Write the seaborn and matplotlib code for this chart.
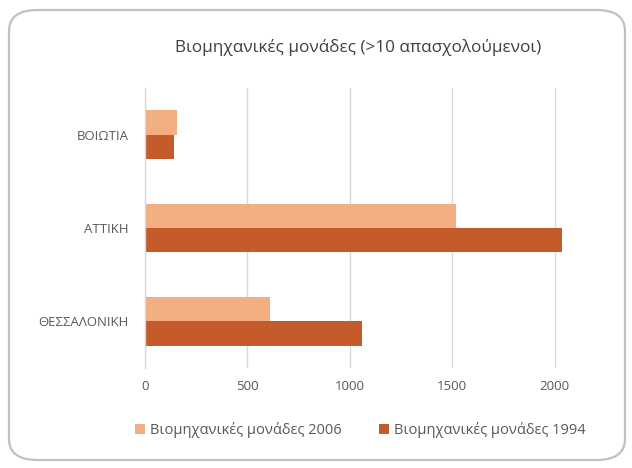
import matplotlib

matplotlib.use("Agg")

import matplotlib.pyplot as plt
import pandas as pd
import seaborn as sns
from matplotlib.patches import FancyBboxPatch

regions = ["ΒΟΙΩΤΙΑ", "ΑΤΤΙΚΗ", "ΘΕΣΣΑΛΟΝΙΚΗ"]
units_2006 = [155, 1520, 610]
units_1994 = [143, 2037, 1062]
series = ["Βιομηχανικές μονάδες 2006", "Βιομηχανικές μονάδες 1994"]
colors = ["#F3AF82", "#C55A2A"]
xticks = [0, 500, 1000, 1500, 2000]

df = pd.concat(
    [
        pd.DataFrame({"region": regions, "value": units_2006, "series": series[0]}),
        pd.DataFrame({"region": regions, "value": units_1994, "series": series[1]}),
    ],
    ignore_index=True,
)

sns.set_theme(style="whitegrid")
plt.rcParams["font.family"] = ["Open Sans", "DejaVu Sans"]

fig = plt.figure(figsize=(6.32, 4.68), dpi=100)
ax = fig.add_axes([145 / 632, 1 - 368 / 468, (575 - 145) / 632, (368 - 88) / 468])

sns.barplot(
    data=df, x="value", y="region", hue="series", hue_order=series,
    palette=colors, orient="h", width=0.52, gap=0, ax=ax, saturation=1,
    linewidth=0,
)

ax.set_xlim(0, 2100)
ax.set_ylim(2.5, -0.5)
ax.set_xticks(xticks)
ax.set_xlabel("")
ax.set_ylabel("")
ax.grid(axis="x", color="#d9d9d9", linewidth=1)
ax.grid(axis="y", visible=False)
for side in ["top", "right", "bottom"]:
    ax.spines[side].set_visible(False)
ax.spines["left"].set_color("#d9d9d9")
ax.spines["left"].set_linewidth(1)
ax.tick_params(axis="both", colors="#595959", labelsize=9.5, length=0)
ax.tick_params(axis="x", pad=9)
ax.tick_params(axis="y", pad=12)

fig.text(0.566, 0.899, "Βιομηχανικές μονάδες (>10 απασχολούμενοι)",
         ha="center", va="center", fontsize=12.3, color="#404040")

handles, labels = ax.get_legend_handles_labels()
ax.get_legend().remove()
fig.legend(handles, labels, loc="center", bbox_to_anchor=(0.57, 0.081), ncol=2,
           frameon=False, fontsize=10.5, handlelength=0.7, handleheight=0.7,
           handletextpad=0.3, columnspacing=2.6, labelcolor="#595959")

border = FancyBboxPatch((9 / 632, 1 - 460 / 468), (625 - 9) / 632, (460 - 10) / 468,
                        boxstyle="round,pad=0,rounding_size=0.045",
                        transform=fig.transFigure, facecolor="none",
                        edgecolor="#c0c0c0", linewidth=1.6)
fig.patches.append(border)

fig.savefig("out.png", dpi=100)
